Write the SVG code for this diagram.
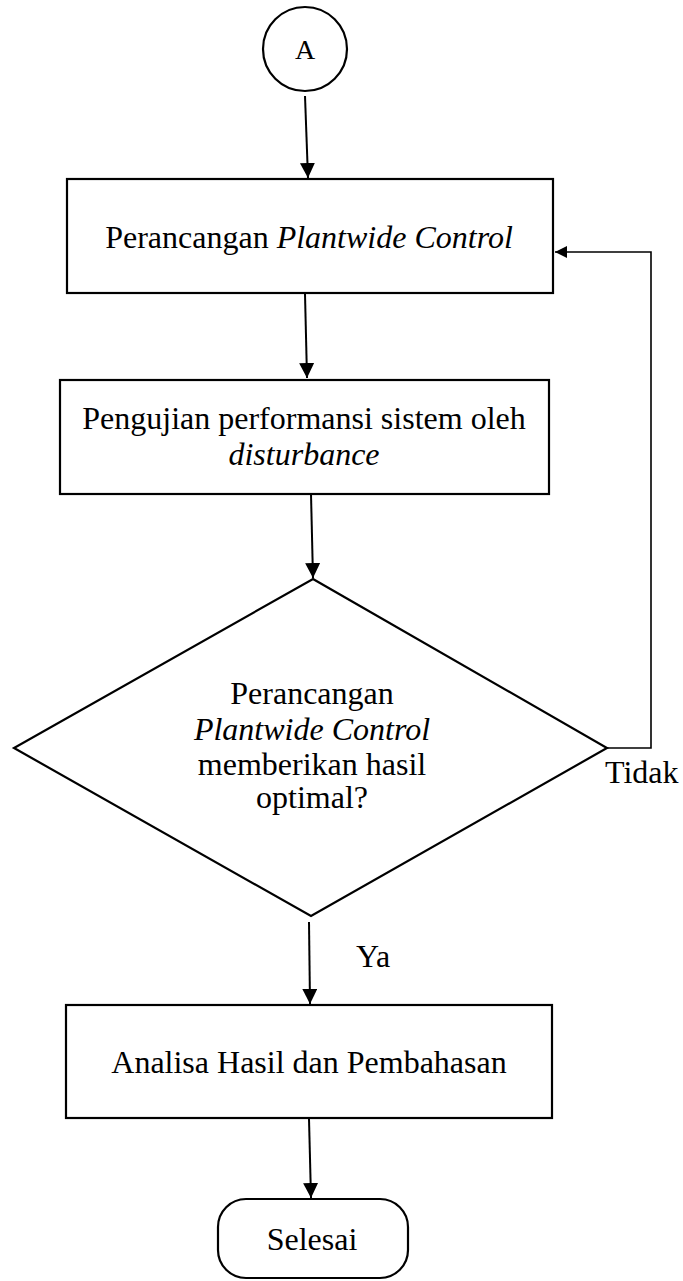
<svg xmlns="http://www.w3.org/2000/svg" width="683" height="1281" viewBox="0 0 683 1281">
<defs>
<marker id="ah" viewBox="0 0 10 10" refX="10" refY="5" markerWidth="7.5" markerHeight="7.5" markerUnits="strokeWidth" orient="auto">
<path d="M0,0 L10,5 L0,10 Z" fill="#000"/>
</marker>
</defs>
<style>
.shape{fill:#fff;stroke:#000;stroke-width:2.2}
.t{font-family:"Liberation Serif","Times New Roman",serif;font-size:32px;fill:#000;text-anchor:middle}
.i{font-style:italic}
.c{fill:none;stroke:#000;stroke-width:2}
.fb{fill:none;stroke:#000;stroke-width:1.6}
</style>
<g id="connectors">
<line class="c" x1="305" y1="96" x2="308" y2="178" marker-end="url(#ah)"/>
<line class="c" x1="305" y1="294" x2="307" y2="378" marker-end="url(#ah)"/>
<line class="c" x1="311" y1="494" x2="313" y2="578" marker-end="url(#ah)"/>
<line class="c" x1="309" y1="922" x2="310" y2="1004" marker-end="url(#ah)"/>
<line class="c" x1="309" y1="1119" x2="311" y2="1198" marker-end="url(#ah)"/>
<polyline class="fb" points="607,748 651,748 651,252 555,252" marker-end="url(#ah)"/>
<text class="t" x="356" y="967" style="text-anchor:start">Ya</text>
<text class="t" x="605" y="783" style="text-anchor:start">Tidak</text>
</g>
<g id="start">
<circle class="shape" cx="305" cy="49" r="42"/>
<text class="t" x="305" y="59" style="font-size:28px">A</text>
</g>
<g id="perancangan">
<rect class="shape" x="67" y="179" width="486" height="114"/>
<text class="t" x="309" y="248">Perancangan <tspan class="i">Plantwide Control</tspan></text>
</g>
<g id="pengujian">
<rect class="shape" x="60" y="380" width="489" height="114"/>
<text class="t" x="304" y="429">Pengujian performansi sistem oleh</text>
<text class="t i" x="304" y="465">disturbance</text>
</g>
<g id="keputusan">
<polygon class="shape" points="313,579 607,748 311,916 14,748"/>
<text class="t" x="312" y="704">Perancangan</text>
<text class="t i" x="312" y="740">Plantwide Control</text>
<text class="t" x="312" y="775">memberikan hasil</text>
<text class="t" x="312" y="808">optimal?</text>
</g>
<g id="analisa">
<rect class="shape" x="66" y="1005" width="486" height="113"/>
<text class="t" x="309" y="1073">Analisa Hasil dan Pembahasan</text>
</g>
<g id="selesai">
<rect class="shape" x="218" y="1199" width="190" height="79" rx="28" ry="28"/>
<text class="t" x="312" y="1250">Selesai</text>
</g>
</svg>
